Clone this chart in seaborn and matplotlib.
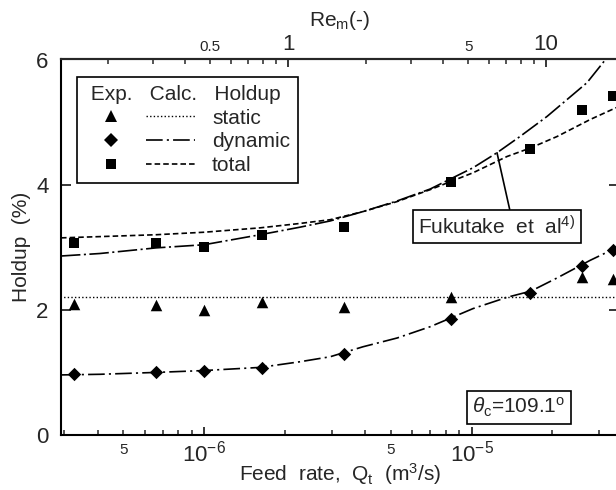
import numpy as np
import pandas as pd
import matplotlib
matplotlib.use("Agg")
import matplotlib.pyplot as plt
import seaborn as sns
from matplotlib.lines import Line2D
from matplotlib.legend_handler import HandlerBase
from matplotlib.ticker import FixedLocator, LogLocator, FuncFormatter, LogFormatterSciNotation

# ---------------- data ----------------
q_exp = [3.27e-7, 6.62e-7, 1.0e-6, 1.65e-6, 3.34e-6, 8.36e-6, 1.66e-5, 2.58e-5, 3.39e-5]
dynamic_exp = [0.98, 1.01, 1.03, 1.07, 1.30, 1.86, 2.27, 2.70, 2.96]
total_exp = [3.07, 3.07, 3.01, 3.20, 3.32, 4.05, 4.57, 5.19, 5.42]
q_static_exp = [3.27e-7, 6.62e-7, 1.0e-6, 1.65e-6, 3.34e-6, 8.36e-6, 2.58e-5, 3.39e-5]
static_exp = [2.09, 2.07, 2.00, 2.13, 2.05, 2.21, 2.52, 2.49]

q_static_calc = [2.9e-7, 3.6e-5]
static_calc = [2.20, 2.20]

q_calc = [2.92e-7, 4.08e-7, 6.62e-7, 1.0e-6, 1.62e-6, 2.28e-6, 2.96e-6, 3.93e-6,
          5.27e-6, 7.00e-6, 1.013e-5, 1.357e-5, 1.669e-5, 2.089e-5, 2.773e-5, 3.47e-5]
dynamic_calc = [0.96, 0.97, 1.00, 1.03, 1.08, 1.17, 1.25, 1.41,
                1.55, 1.73, 2.02, 2.20, 2.30, 2.51, 2.79, 2.99]
total_calc = [3.15, 3.17, 3.20, 3.24, 3.31, 3.38, 3.44, 3.57,
              3.73, 3.92, 4.19, 4.45, 4.59, 4.77, 5.04, 5.23]

q_fuku = [2.92e-7, 4.08e-7, 6.62e-7, 1.0e-6, 1.62e-6, 2.28e-6, 2.96e-6, 3.93e-6,
          5.27e-6, 7.00e-6, 1.013e-5, 1.245e-5, 1.518e-5, 1.915e-5, 2.275e-5, 2.702e-5, 3.21e-5, 3.47e-5]
fuku_total = [2.86, 2.90, 2.99, 3.04, 3.20, 3.32, 3.42, 3.57,
              3.74, 3.93, 4.27, 4.51, 4.77, 5.09, 5.36, 5.63, 6.03, 6.25]

x_major = [1e-6, 1e-5]
x_minor_labelled = [5e-7, 5e-6]
re_major = [1, 10]
re_minor_labelled = [0.5, 5]
y_ticks = [0, 2, 4, 6]

legend_title = " Exp.   Calc.   Holdup"
legend_labels = ["static", "dynamic", "total"]

# ---------------- styling ----------------
sns.set_theme(style="ticks")
plt.rcParams["font.family"] = ["Liberation Sans", "DejaVu Sans"]
plt.rcParams["mathtext.fontset"] = "custom"
plt.rcParams["mathtext.rm"] = "Liberation Sans"
plt.rcParams["mathtext.it"] = "Liberation Sans:italic"
plt.rcParams["mathtext.bf"] = "Liberation Sans:bold"
plt.rcParams["lines.scale_dashes"] = False

LS_STATIC = (0, (1.0, 1.6))
LS_DYN = (0, (12, 3, 1.5, 3))
LS_TOT = (0, (4.0, 2.2))
LS_FUKU = (0, (14, 2.5, 1.5, 2.5))

MS_TRI, MS_DIA, MS_SQ = 8.3, 6.8, 7.0

fig = plt.figure(figsize=(6.16, 4.9), dpi=100)
W, H = 616, 490
L, R, T, B = 61, 619, 59.5, 435
ax = fig.add_axes([L / W, (H - B) / H, (R - L) / W, (B - T) / H])
ax.set_xscale("log")
ax.set_xlim(2.92e-7, 3.558e-5)
ax.set_ylim(0, 6)

# calculated lines
sns.lineplot(x=q_static_calc, y=static_calc, ax=ax, color="black", lw=1.0,
             linestyle=LS_STATIC, estimator=None, sort=False)
sns.lineplot(x=q_calc, y=dynamic_calc, ax=ax, color="black", lw=1.2,
             linestyle=LS_DYN, estimator=None, sort=False)
sns.lineplot(x=q_calc, y=total_calc, ax=ax, color="black", lw=1.2,
             linestyle=LS_TOT, estimator=None, sort=False)
sns.lineplot(x=q_fuku, y=fuku_total, ax=ax, color="black", lw=1.2,
             linestyle=LS_FUKU, estimator=None, sort=False)

# experimental points
sns.scatterplot(x=q_static_exp, y=static_exp, ax=ax, marker="^", s=MS_TRI ** 2,
                color="black", edgecolor="black", linewidth=0, zorder=3)
sns.scatterplot(x=q_exp, y=dynamic_exp, ax=ax, marker="D", s=MS_DIA ** 2,
                color="black", edgecolor="black", linewidth=0, zorder=3)
sns.scatterplot(x=q_exp, y=total_exp, ax=ax, marker="s", s=MS_SQ ** 2,
                color="black", edgecolor="black", linewidth=0, zorder=3)


def labelled(values, text_fn):
    def f(v, p):
        for t in values:
            if abs(v / t - 1) < 1e-3:
                return text_fn(t)
        return ""
    return FuncFormatter(f)


# top axis (Re_m)
ax2 = ax.twiny()
ax2.set_xscale("log")
ax2.set_xlim(0.1318, 19.19)
ax2.xaxis.set_major_locator(FixedLocator(re_major))
ax2.xaxis.set_major_formatter(labelled(re_major, lambda t: "%g" % t))
ax2.xaxis.set_minor_locator(LogLocator(base=10, subs=np.arange(2, 10), numticks=50))
ax2.xaxis.set_minor_formatter(labelled(re_minor_labelled, lambda t: "%g" % t))
for s in ["left", "right", "bottom"]:
    ax2.spines[s].set_visible(False)
ax2.spines["top"].set_linewidth(1.5)
ax2.tick_params(axis="x", which="major", direction="in", length=6, width=1.3,
                labelsize=16, pad=3, top=True, bottom=False)
ax2.tick_params(axis="x", which="minor", direction="in", length=3.5, width=1.1,
                labelsize=11, pad=4, top=True, bottom=False)
ax2.set_xlabel(r"Re$_\mathregular{m}$(-)", fontsize=15, labelpad=6)

# bottom axis
ax.xaxis.set_major_locator(FixedLocator(x_major))
ax.xaxis.set_major_formatter(LogFormatterSciNotation())
ax.xaxis.set_minor_locator(LogLocator(base=10, subs=np.arange(2, 10), numticks=50))
ax.xaxis.set_minor_formatter(labelled(x_minor_labelled, lambda t: "5"))
ax.yaxis.set_major_locator(FixedLocator(y_ticks))
ax.tick_params(axis="x", which="major", direction="in", length=6, width=1.3,
               labelsize=16, pad=4, bottom=True, top=False)
ax.tick_params(axis="x", which="minor", direction="in", length=3.5, width=1.1,
               labelsize=11, pad=6, bottom=True, top=False)
ax.tick_params(axis="y", which="major", direction="in", length=7, width=1.3,
               labelsize=16, pad=9, left=True, right=True)
for s in ["left", "right", "bottom", "top"]:
    ax.spines[s].set_linewidth(1.5)
    ax.spines[s].set_color("black")
ax.set_xlabel(r"Feed  rate,  Q$_\mathregular{t}$  (m$^\mathregular{3}$/s)", fontsize=15)
ax.xaxis.set_label_coords(0.5, -0.07)
ax.set_ylabel("Holdup  (%)", fontsize=15, labelpad=4)


# legend
class ExpCalcHandler(HandlerBase):
    def create_artists(self, legend, orig_handle, xdescent, ydescent, width, height, fontsize, trans):
        marker, ms, ls, lw = orig_handle
        y = height / 2 - ydescent
        m = Line2D([0.24 * width - xdescent], [y], linestyle="none", marker=marker,
                   markersize=ms, color="black", markeredgewidth=0)
        ln = Line2D([0.55 * width - xdescent, width - xdescent], [y, y],
                    linestyle=ls, linewidth=lw, color="black")
        m.set_transform(trans)
        ln.set_transform(trans)
        return [m, ln]


handles = [("^", MS_TRI, LS_STATIC, 1.0), ("D", MS_DIA, LS_DYN, 1.2), ("s", MS_SQ, LS_TOT, 1.2)]
leg = ax.legend(handles, legend_labels, handler_map={tuple: ExpCalcHandler()},
                title=legend_title, alignment="left", loc="upper left",
                bbox_to_anchor=(0.028, 0.954), borderaxespad=0, fontsize=15,
                title_fontsize=15, handlelength=5.3, handletextpad=0.8,
                labelspacing=0.22, borderpad=0.4, frameon=True, fancybox=False,
                framealpha=1, edgecolor="black")
leg.get_frame().set_linewidth(1.2)

# annotations
ax.annotate(r"Fukutake  et  al$^\mathregular{4)}$", xy=(1.245e-5, 4.51), xycoords="data",
            xytext=(0.781, 0.555), textcoords="axes fraction", ha="center", va="center",
            fontsize=15,
            bbox=dict(boxstyle="square,pad=0.25", fc="white", ec="black", lw=1.2),
            arrowprops=dict(arrowstyle="-", color="black", lw=1.2, relpos=(0.59, 1.0),
                            shrinkA=0, shrinkB=0))
ax.text(0.821, 0.073, r"$\theta_\mathregular{c}$=109.1$^\mathregular{o}$", transform=ax.transAxes,
        ha="center", va="center", fontsize=15,
        bbox=dict(boxstyle="square,pad=0.25", fc="white", ec="black", lw=1.2))

fig.savefig("out.png", dpi=100)
